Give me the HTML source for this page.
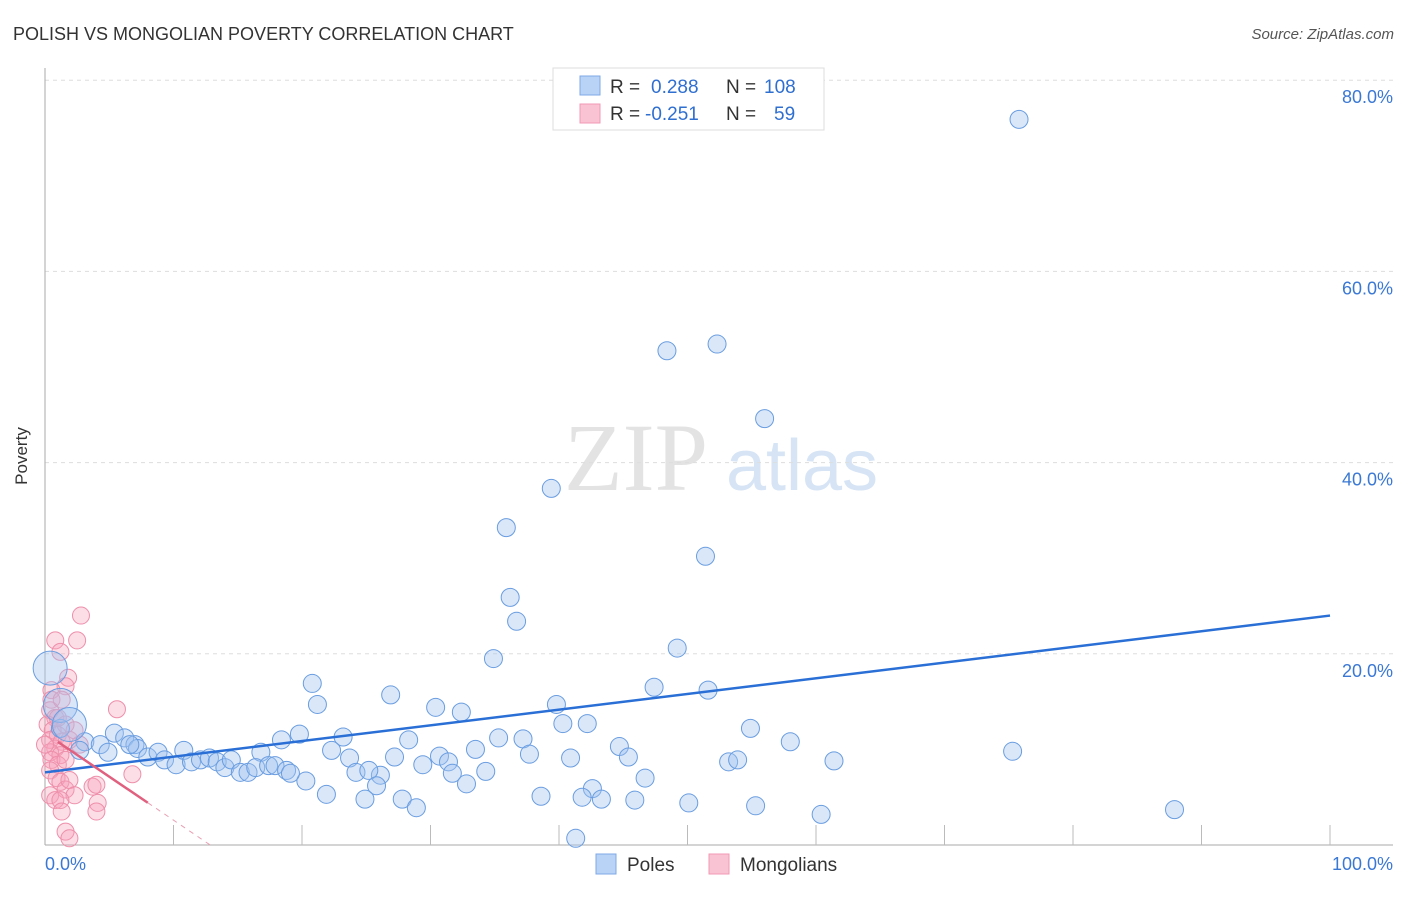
<!DOCTYPE html>
<html><head><meta charset="utf-8"><style>
body{margin:0;background:#fff;font-family:"Liberation Sans",sans-serif;}
svg text{font-family:"Liberation Sans",sans-serif;}
</style></head><body>
<svg id="chart" width="1406" height="892" xmlns="http://www.w3.org/2000/svg">
<text x="13" y="40" font-size="18" fill="#333">POLISH VS MONGOLIAN POVERTY CORRELATION CHART</text>
<text x="1394" y="39" font-size="15" fill="#555" text-anchor="end" font-style="italic">Source: ZipAtlas.com</text>
<text x="636" y="490" font-size="96" fill="#e3e3e3" text-anchor="middle" font-family="Liberation Serif, serif" style="font-family:'Liberation Serif',serif">ZIP</text>
<text x="802" y="490" font-size="72" fill="#d6e4f5" text-anchor="middle">atlas</text>
<g id="grid"></g>
<g id="axes"></g>
<g id="pinkpts"></g>
<g id="bluepts"></g>
<g id="lines"></g>
<text x="27" y="456" font-size="17" fill="#333" text-anchor="middle" transform="rotate(-90 27 456)">Poverty</text>
<g>
<rect x="553" y="68" width="271" height="62" fill="#fff" stroke="#ddd"/>
<rect x="580" y="76" width="20" height="19" fill="#b8d3f5" stroke="#7fa9e6"/>
<rect x="580" y="104" width="20" height="19" fill="#f9c3d3" stroke="#f19ab4"/>
<text x="610" y="93" font-size="19" fill="#333">R =</text>
<text x="651" y="93" font-size="19" fill="#2f6fd0">0.288</text>
<text x="726" y="93" font-size="19" fill="#333">N =</text>
<text x="764" y="93" font-size="19" fill="#2f6fd0">108</text>
<text x="610" y="120" font-size="19" fill="#333">R =</text>
<text x="645" y="120" font-size="19" fill="#2f6fd0">-0.251</text>
<text x="726" y="120" font-size="19" fill="#333">N =</text>
<text x="774" y="120" font-size="19" fill="#2f6fd0">59</text>
</g>
<g>
<rect x="596" y="854" width="20" height="20" fill="#b8d3f5" stroke="#7fa9e6"/>
<text x="627" y="871" font-size="19" fill="#333">Poles</text>
<rect x="709" y="854" width="20" height="20" fill="#f9c3d3" stroke="#f19ab4"/>
<text x="740" y="871" font-size="19" fill="#333">Mongolians</text>
</g>
</svg>
<script>
const yTicks=[20,40,60,80];
const yTickLabels=["20.0%","40.0%","60.0%","80.0%"];
const xTicks=[10,20,30,40,50,60,70,80,90,100];
const xTickLabels=["0.0%","100.0%"];
const polesX=[75.8,48.4,52.3,56.0,39.4,35.9,51.4,36.2,36.7,49.2,34.9,20.8,47.4,51.6,26.9,21.2,39.8,30.4,32.4,40.3,42.2,54.9,19.8,23.2,28.3,35.3,37.2,58.0,44.7,75.3,22.3,33.5,30.7,37.7,40.9,45.4,23.7,27.2,31.4,18.4,16.8,53.2,53.9,61.4,29.4,24.2,26.1,31.7,34.3,46.7,25.2,32.8,20.3,25.8,42.6,21.9,38.6,24.9,27.8,41.8,43.3,45.9,28.9,50.1,55.3,87.9,60.4,41.3,1.2,3.1,4.3,4.9,5.4,6.2,7.0,7.2,8.0,8.8,9.3,10.2,10.8,11.4,12.1,12.8,13.4,14.0,14.5,15.2,15.8,16.4,17.4,17.9,18.8,19.1,2.7,6.6];
const polesY=[75.9,51.7,52.4,44.6,37.3,33.2,30.2,25.9,23.4,20.6,19.5,16.9,16.5,16.2,15.7,14.7,14.7,14.4,13.9,12.7,12.7,12.2,11.6,11.3,11.0,11.2,11.1,10.8,10.3,9.8,9.9,10.0,9.3,9.5,9.1,9.2,9.1,9.2,8.7,11.0,9.7,8.7,8.9,8.8,8.4,7.6,7.3,7.5,7.7,7.0,7.8,6.4,6.7,6.2,5.9,5.3,5.1,4.8,4.8,5.0,4.8,4.7,3.9,4.4,4.1,3.7,3.2,0.7,12.2,10.8,10.5,9.7,11.7,11.2,10.5,10.1,9.2,9.7,8.9,8.4,9.9,8.7,8.9,9.1,8.7,8.1,8.9,7.6,7.6,8.1,8.3,8.3,7.8,7.5,9.9,10.5];
const polesBigX=[0.4,1.2,1.9];
const polesBigY=[18.5,14.6,12.6];
const mongX=[2.8,0.8,2.5,1.2,1.8,1.6,0.5,0.5,0.4,0.8,0.2,0.6,1.0,0.4,1.3,0.8,0.4,1.2,0.5,1.0,0.4,0.9,1.2,1.6,1.9,0.4,0.8,5.6,6.8,3.7,4.0,2.3,4.1,1.2,1.3,4.0,1.6,1.9,1.6,1.9,1.3,1.6,0.0,1.0,2.3,2.7];
const mongY=[24.0,21.4,21.4,20.2,17.5,16.6,16.2,15.2,14.1,13.3,12.6,12.0,11.5,11.0,10.8,10.1,9.7,9.4,8.9,8.4,7.8,7.0,6.6,5.8,6.8,5.2,4.7,14.2,7.4,6.1,6.3,5.2,4.4,4.7,3.5,3.5,1.4,0.7,12.6,11.0,15.2,8.9,10.5,13.3,12.0,10.5];
const polesTrend=[7.6,0.164];
const mongTrend=[11.7,-0.91];
const mongSolidEnd=8.0;

const X0=45,X1=1330,Y0=845,YS=9.56;
const sx=v=>X0+v*(X1-X0)/100;
const sy=v=>Y0-v*YS;
const NS="http://www.w3.org/2000/svg";
function mk(tag,attrs,parent){const e=document.createElementNS(NS,tag);for(const k in attrs)e.setAttribute(k,attrs[k]);document.getElementById(parent).appendChild(e);return e;}

yTicks.forEach((t,i)=>{
 const l=mk('line',{x1:X0,x2:1393,y1:sy(t),y2:sy(t),stroke:'#ddd','stroke-dasharray':'4,4'},'grid');
 
 
 const tx=mk('text',{x:1393,y:sy(t)+23,'font-size':18,fill:'#3a78d4','text-anchor':'end'},'grid');
 tx.textContent=yTickLabels[i];
 
 
});
const ax=mk('line',{x1:X0,x2:X0,y1:68,y2:Y0,stroke:'#aaa'},'axes');


const bx=mk('line',{x1:X0,x2:1393,y1:Y0,y2:Y0,stroke:'#aaa'},'axes');


xTicks.forEach(t=>{
 const l=mk('line',{x1:sx(t),x2:sx(t),y1:Y0-20,y2:Y0,stroke:'#bbb'},'axes');
 
 
});
const xl0=mk('text',{x:X0,y:870,'font-size':18,fill:'#3a78d4'},'axes');
xl0.textContent=xTickLabels[0];


const xl1=mk('text',{x:1393,y:870,'font-size':18,fill:'#3a78d4','text-anchor':'end'},'axes');
xl1.textContent=xTickLabels[1];



mongX.forEach((v,i)=>{
 const c=mk('circle',{cx:sx(v),cy:sy(mongY[i]),r:8.5,fill:'rgba(245,160,185,0.35)',stroke:'#ee8fab','stroke-width':1},'pinkpts');
 
 
});
polesX.forEach((v,i)=>{
 const c=mk('circle',{cx:sx(v),cy:sy(polesY[i]),r:9,fill:'rgba(160,196,240,0.4)',stroke:'#6a9de0','stroke-width':1},'bluepts');
 
 
});
polesBigX.forEach((v,i)=>{
 const c=mk('circle',{cx:sx(v),cy:sy(polesBigY[i]),r:17,fill:'rgba(160,196,240,0.4)',stroke:'#6a9de0','stroke-width':1},'bluepts');
 
 
});
const bl=mk('line',{x1:sx(0),y1:sy(polesTrend[0]),x2:sx(100),y2:sy(polesTrend[0]+polesTrend[1]*100),stroke:'#2a6fd6','stroke-width':2.5},'lines');


const ms=mk('line',{x1:sx(1),y1:sy(mongTrend[0]+mongTrend[1]*1),x2:sx(mongSolidEnd),y2:sy(mongTrend[0]+mongTrend[1]*mongSolidEnd),stroke:'#e0607f','stroke-width':2.5},'lines');


const xEnd=-mongTrend[0]/mongTrend[1];
const md=mk('line',{x1:sx(mongSolidEnd),y1:sy(mongTrend[0]+mongTrend[1]*mongSolidEnd),x2:sx(xEnd),y2:sy(0),stroke:'#e8a0b3','stroke-width':1,'stroke-dasharray':'5,5'},'lines');


</script>
</body></html>
